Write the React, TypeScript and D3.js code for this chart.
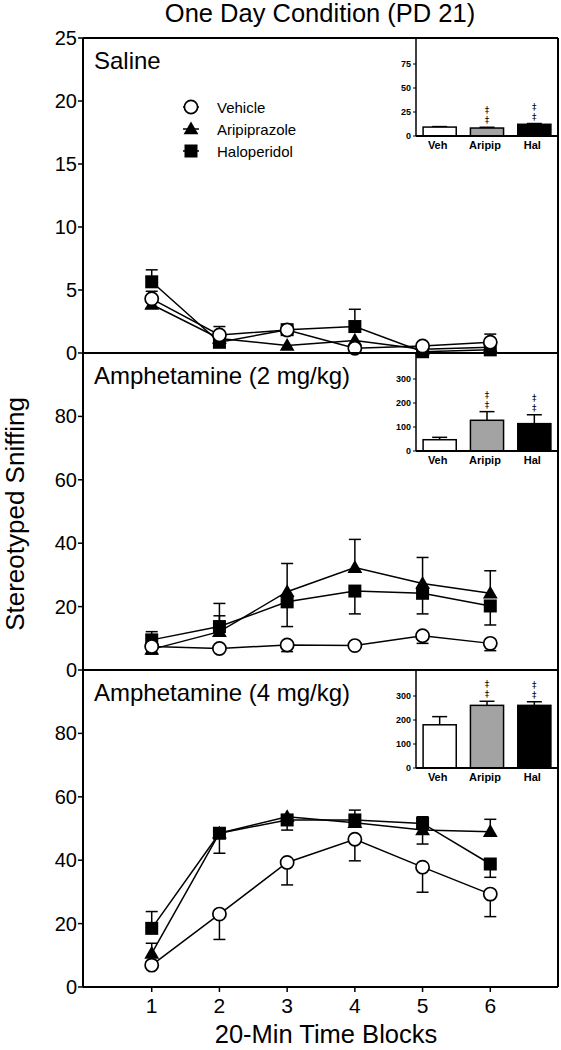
import React from 'react';
import * as d3 from 'd3';

// ---------- data ----------
const timeBlocks = [1, 2, 3, 4, 5, 6];
const xTickLabels = ['1', '2', '3', '4', '5', '6'];
const seriesNames = ['Vehicle', 'Aripiprazole', 'Haloperidol'];
const insetCategories = ['Veh', 'Aripip', 'Hal'];

// Saline panel
const salineVeh = [4.3, 1.43, 1.83, 0.37, 0.55, 0.85];
const salineVehUp = [0.6, 0.67, 0.2, 0, 0, 0.65];
const salineVehDown = [0, 0, 0, 0, 0, 0];
const salineAri = [3.85, 1.15, 0.6, 1.0, 0.3, 0.45];
const salineAriUp = [0, 0, 0, 0, 0, 0];
const salineAriDown = [0.3, 0, 0, 0, 0, 0];
const salineHal = [5.65, 0.85, 1.85, 2.1, 0.1, 0.25];
const salineHalUp = [0.95, 0, 0, 1.37, 0, 0];
const salineHalDown = [0, 0, 0, 0, 0, 0];
const salineInset = [9.3, 8.3, 12.2];
const salineInsetErr = [0.5, 0.8, 0.8];
const salineYTicks = [0, 5, 10, 15, 20, 25];
const salineInsetTicks = [0, 25, 50, 75];

// Amphetamine 2 mg/kg panel
const amph2Veh = [7.4, 6.8, 7.9, 7.7, 10.8, 8.4];
const amph2VehUp = [0, 0, 0, 0, 0, 0];
const amph2VehDown = [2.4, 0, 2.1, 0, 2.4, 2.3];
const amph2Ari = [6.5, 12.1, 24.7, 32.3, 27.3, 24.2];
const amph2AriUp = [0, 8.9, 8.9, 8.9, 8.2, 7.1];
const amph2AriDown = [0, 0, 0, 0, 0, 0];
const amph2Hal = [9.5, 13.7, 21.5, 24.9, 24.2, 20.2];
const amph2HalUp = [2.6, 3.4, 0, 0, 0, 0];
const amph2HalDown = [0, 0, 7.8, 7.2, 6.5, 6.0];
const amph2Inset = [47, 128, 114];
const amph2InsetErr = [10, 36, 37];
const amphYTicks = [0, 20, 40, 60, 80];
const amphInsetTicks = [0, 100, 200, 300];

// Amphetamine 4 mg/kg panel
const amph4Veh = [6.9, 23.0, 39.3, 46.6, 37.8, 29.3];
const amph4VehUp = [0, 0, 0, 0, 0, 0];
const amph4VehDown = [0, 8.0, 7.1, 6.8, 7.9, 7.1];
const amph4Ari = [10.6, 48.5, 53.7, 51.8, 49.5, 49.0];
const amph4AriUp = [3.2, 0, 0, 0, 0, 3.9];
const amph4AriDown = [0, 6.3, 0, 0, 4.4, 0];
const amph4Hal = [18.5, 48.5, 52.7, 52.7, 51.6, 38.8];
const amph4HalUp = [5.3, 0, 0, 3.1, 2.1, 0];
const amph4HalDown = [0, 0, 3.2, 0, 0, 4.2];
const amph4Inset = [180, 261, 261];
const amph4InsetErr = [34, 17, 15];

// ---------- layout ----------
const W = 561;
const H = 1050;
const left = 83;
const right = 558;
const FONT = '"Liberation Sans", Arial, Helvetica, sans-serif';

const panels = [
  {
    label: 'Saline', top: 38, bottom: 353, max: 25, ticks: salineYTicks,
    series: [
      { v: salineHal, up: salineHalUp, down: salineHalDown, shape: 'square' },
      { v: salineAri, up: salineAriUp, down: salineAriDown, shape: 'triangle' },
      { v: salineVeh, up: salineVehUp, down: salineVehDown, shape: 'circle' },
    ],
    inset: salineInset, insetErr: salineInsetErr, insetMax: 100, insetTicks: salineInsetTicks,
    sig: [false, true, true], legend: true,
  },
  {
    label: 'Amphetamine (2 mg/kg)', top: 353, bottom: 670, max: 100, ticks: amphYTicks,
    series: [
      { v: amph2Hal, up: amph2HalUp, down: amph2HalDown, shape: 'square' },
      { v: amph2Ari, up: amph2AriUp, down: amph2AriDown, shape: 'triangle' },
      { v: amph2Veh, up: amph2VehUp, down: amph2VehDown, shape: 'circle' },
    ],
    inset: amph2Inset, insetErr: amph2InsetErr, insetMax: 400, insetTicks: amphInsetTicks,
    sig: [false, true, true], legend: false,
  },
  {
    label: 'Amphetamine (4 mg/kg)', top: 670, bottom: 987, max: 100, ticks: amphYTicks,
    series: [
      { v: amph4Hal, up: amph4HalUp, down: amph4HalDown, shape: 'square' },
      { v: amph4Ari, up: amph4AriUp, down: amph4AriDown, shape: 'triangle' },
      { v: amph4Veh, up: amph4VehUp, down: amph4VehDown, shape: 'circle' },
    ],
    inset: amph4Inset, insetErr: amph4InsetErr, insetMax: 400, insetTicks: amphInsetTicks,
    sig: [false, true, true], legend: false,
  },
];

const insetFills = ['#ffffff', '#a3a3a3', '#000000'];
const triPath = d3.symbol(d3.symbolTriangle, 95)() as string;

function Marker({ shape, cx, cy }: { shape: string; cx: number; cy: number }) {
  if (shape === 'circle') {
    return <circle cx={cx} cy={cy} r={6.6} fill="#fff" stroke="#000" strokeWidth={1.7} />;
  }
  if (shape === 'square') {
    return <rect x={cx - 6.5} y={cy - 6.5} width={13} height={13} fill="#000" />;
  }
  return <path d={triPath} transform={`translate(${cx},${cy + 1})`} fill="#000" />;
}

export default function App() {
  const x = d3.scaleLinear().domain([0, 7]).range([84, 558]);
  const band = d3.scaleBand<string>().domain(insetCategories).range([416, 558]).paddingInner(0.3).paddingOuter(0.15);
  const legendNames = seriesNames;
  const legendShapes = ['circle', 'triangle', 'square'];

  return (
    <svg width={W} height={H} style={{ position: 'absolute', left: 0, top: 0, background: '#fff' }} fontFamily={FONT}>
      <rect x={0} y={0} width={W} height={H} fill="#fff" />
      {/* Title */}
      <text x={320} y={22} fontSize={25.5} textAnchor="middle" fill="#000">One Day Condition (PD 21)</text>

      {panels.map((p, pi) => {
        const y = d3.scaleLinear().domain([0, p.max]).range([p.bottom, p.top]);
        const line = d3.line<number>().x((_, i) => x(timeBlocks[i])).y((d) => y(d));
        const insetBase = p.top + 98;
        const iy = d3.scaleLinear().domain([0, p.insetMax]).range([insetBase, p.top + 2]);
        return (
          <g key={pi}>
            {/* y ticks */}
            {p.ticks.map((t) => (
              <g key={t}>
                <line x1={left - 5} x2={left} y1={y(t)} y2={y(t)} stroke="#000" strokeWidth={1.5} />
                <text x={left - 6} y={y(t)} fontSize={20} textAnchor="end" dominantBaseline="central" fill="#000">{t}</text>
              </g>
            ))}
            {/* panel label */}
            <text x={94} y={p.top + 31} fontSize={24} fill="#000">{p.label}</text>

            {/* lines */}
            {p.series.map((s, si) => (
              <path key={'l' + si} d={line(s.v) as string} fill="none" stroke="#000" strokeWidth={1.5} />
            ))}
            {/* error bars */}
            {p.series.map((s, si) => (
              <g key={'e' + si}>
                {s.v.map((v, i) => {
                  const cx = x(timeBlocks[i]);
                  const parts = [] as any[];
                  if (s.up[i] > 0) {
                    const ye = y(v + s.up[i]);
                    parts.push(<line key="u" x1={cx} x2={cx} y1={y(v)} y2={ye} stroke="#000" strokeWidth={1.5} />);
                    parts.push(<line key="uc" x1={cx - 6} x2={cx + 6} y1={ye} y2={ye} stroke="#000" strokeWidth={1.5} />);
                  }
                  if (s.down[i] > 0) {
                    const ye = y(v - s.down[i]);
                    parts.push(<line key="d" x1={cx} x2={cx} y1={y(v)} y2={ye} stroke="#000" strokeWidth={1.5} />);
                    parts.push(<line key="dc" x1={cx - 6} x2={cx + 6} y1={ye} y2={ye} stroke="#000" strokeWidth={1.5} />);
                  }
                  return <g key={i}>{parts}</g>;
                })}
              </g>
            ))}
            {/* markers */}
            {p.series.map((s, si) => (
              <g key={'m' + si}>
                {s.v.map((v, i) => (
                  <Marker key={i} shape={s.shape} cx={x(timeBlocks[i])} cy={y(v)} />
                ))}
              </g>
            ))}

            {/* inset bar chart */}
            <g>
              {p.inset.map((v, i) => {
                const bx = band(insetCategories[i]) as number;
                const bw = band.bandwidth();
                const cx = bx + bw / 2;
                const et = iy(v + p.insetErr[i]);
                return (
                  <g key={i}>
                    <line x1={cx} x2={cx} y1={iy(v)} y2={et} stroke="#000" strokeWidth={1.5} />
                    <line x1={cx - 7.5} x2={cx + 7.5} y1={et} y2={et} stroke="#000" strokeWidth={1.5} />
                    <rect x={bx} y={iy(v)} width={bw} height={insetBase - iy(v)} fill={insetFills[i]} stroke="#000" strokeWidth={1.5} />
                    {p.sig[i] && (
                      <g fontFamily='"DejaVu Sans", sans-serif' fill="#000">
                        <text x={cx} y={et - 7} fontSize={9} textAnchor="middle" dominantBaseline="central" fill="#000">‡</text>
                        <text x={cx} y={et - 17} fontSize={9} textAnchor="middle" dominantBaseline="central" fill="#000">‡</text>
                      </g>
                    )}
                    <text x={cx - 2} y={insetBase + 13} fontSize={11} fontWeight="bold" textAnchor="middle" fill="#000">{insetCategories[i]}</text>
                  </g>
                );
              })}
              <line x1={416} x2={416} y1={p.top} y2={insetBase} stroke="#000" strokeWidth={1.5} />
              <line x1={416} x2={right} y1={insetBase} y2={insetBase} stroke="#000" strokeWidth={2} />
              {p.insetTicks.map((t) => (
                <g key={t}>
                  <line x1={413} x2={416} y1={iy(t)} y2={iy(t)} stroke="#000" strokeWidth={1} />
                  <text x={411} y={iy(t)} fontSize={9} fontWeight="bold" textAnchor="end" dominantBaseline="central" fill="#000">{t}</text>
                </g>
              ))}
            </g>

            {/* panel bottom line */}
            <line x1={left} x2={right} y1={p.bottom} y2={p.bottom} stroke="#000" strokeWidth={2} />

            {/* legend */}
            {p.legend && legendNames.map((n, i) => {
              const ly = 107 + i * 22;
              return (
                <g key={n}>
                  <line x1={183} x2={199} y1={ly} y2={ly} stroke="#000" strokeWidth={1.5} />
                  <Marker shape={legendShapes[i]} cx={191} cy={ly} />
                  <text x={217} y={ly + 6} fontSize={15} fill="#000">{n}</text>
                </g>
              );
            })}
          </g>
        );
      })}

      {/* frame */}
      <line x1={left} x2={left} y1={38} y2={987} stroke="#000" strokeWidth={2} />
      <line x1={left} x2={right} y1={38} y2={38} stroke="#000" strokeWidth={2} />
      <line x1={right} x2={right} y1={38} y2={987} stroke="#000" strokeWidth={2} />

      {/* x ticks */}
      {timeBlocks.map((t, i) => (
        <g key={t}>
          <line x1={x(t)} x2={x(t)} y1={987} y2={992} stroke="#000" strokeWidth={1.5} />
          <text x={x(t)} y={1013} fontSize={21} textAnchor="middle" fill="#000">{xTickLabels[i]}</text>
        </g>
      ))}

      {/* axis titles */}
      <text x={326} y={1043} fontSize={25.5} textAnchor="middle" fill="#000">20-Min Time Blocks</text>
      <text transform="translate(24,514) rotate(-90)" fontSize={26} textAnchor="middle" fill="#000">Stereotyped Sniffing</text>
    </svg>
  );
}
